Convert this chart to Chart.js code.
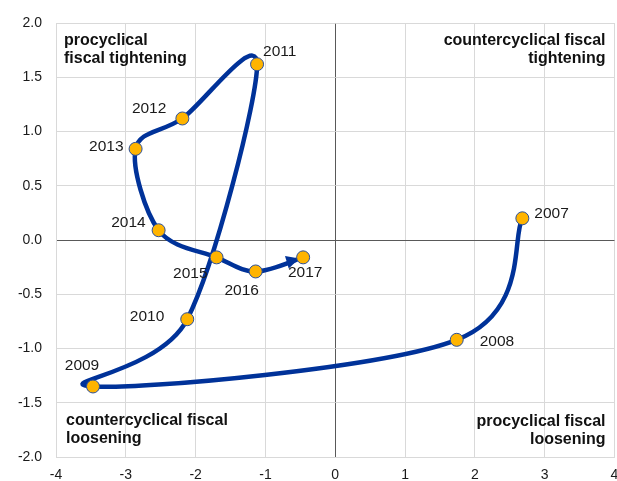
<!DOCTYPE html>
<html lang="en">
<head>
    <meta charset="UTF-8">
    <title>Fiscal stance vs output gap</title>
    <script src="https://cdn.jsdelivr.net/npm/chart.js"></script>
    <style>
        html, body { margin: 0; padding: 0; background: #fff; }
        #wrap { width: 617px; height: 481px; }
    </style>
</head>
<body>
    <div id="wrap"><canvas id="fiscalChart" width="617" height="481"></canvas></div>

    <script>
        // data
        const years = ['2007', '2008', '2009', '2010', '2011', '2012', '2013', '2014', '2015', '2016', '2017'];
        const xValues = [2.68, 1.74, -3.47, -2.12, -1.12, -2.19, -2.86, -2.53, -1.70, -1.14, -0.46];
        const yValues = [0.20, -0.92, -1.35, -0.73, 1.62, 1.12, 0.84, 0.09, -0.16, -0.29, -0.16];
        const xTicks = [-4, -3, -2, -1, 0, 1, 2, 3, 4];
        const yTicks = [-2.0, -1.5, -1.0, -0.5, 0.0, 0.5, 1.0, 1.5, 2.0];

        const quadrantNotes = {
            topLeft: ['procyclical', 'fiscal tightening'],
            topRight: ['countercyclical fiscal', 'tightening'],
            bottomLeft: ['countercyclical fiscal', 'loosening'],
            bottomRight: ['procyclical fiscal', 'loosening']
        };

        // where each year label sits relative to its marker (px)
        const labelPlace = {
            '2007': [12, -5, 'left'],
            '2008': [23, 2, 'left'],
            '2009': [-11, -21, 'center'],
            '2010': [-23, -2, 'right'],
            '2011': [6, -13, 'left'],
            '2012': [-16, -10, 'right'],
            '2013': [-12, -2, 'right'],
            '2014': [-13, -8, 'right'],
            '2015': [-9, 16, 'right'],
            '2016': [-14, 19, 'center'],
            '2017': [2, 15, 'center']
        };

        const blue = '#003299';
        const orange = '#ffb400';
        const font = "'Liberation Sans', Arial, sans-serif";

        const points = xValues.map((x, i) => ({ x: x, y: yValues[i] }));

        // Excel-like smoothing: catmull-rom control points (1/6 of neighbour span)
        const smoothPlugin = {
            id: 'excelSmooth',
            beforeDatasetDraw(chart, args) {
                if (args.index !== 0) return;
                const line = args.meta.dataset;
                line.updateControlPoints(chart.chartArea);
                const pts = args.meta.data;
                pts.forEach((p, i) => {
                    const prev = pts[i - 1] || p;
                    const next = pts[i + 1] || p;
                    const tx = (next.x - prev.x) / 6;
                    const ty = (next.y - prev.y) / 6;
                    p.cp1x = p.x - tx; p.cp1y = p.y - ty;
                    p.cp2x = p.x + tx; p.cp2y = p.y + ty;
                });
            }
        };

        // arrow head at end of the line
        const arrowPlugin = {
            id: 'arrowHead',
            afterDatasetDraw(chart, args) {
                if (args.index !== 0) return;
                const els = args.meta.data;
                const last = els[els.length - 1];
                let dx = last.x - last.cp1x;
                let dy = last.y - last.cp1y;
                const len = Math.hypot(dx, dy) || 1;
                dx /= len; dy /= len;
                const tipX = last.x - dx * 4, tipY = last.y - dy * 4;
                const size = 13, half = 6.5;
                const bx = tipX - dx * size, by = tipY - dy * size;
                const c = chart.ctx;
                c.save();
                c.fillStyle = blue;
                c.beginPath();
                c.moveTo(tipX, tipY);
                c.lineTo(bx - dy * half, by + dx * half);
                c.lineTo(bx + dy * half, by - dx * half);
                c.closePath();
                c.fill();
                c.restore();
            }
        };

        const labelsPlugin = {
            id: 'textLabels',
            afterDatasetsDraw(chart) {
                const c = chart.ctx;
                const meta = chart.getDatasetMeta(1);
                c.save();
                c.font = '15.5px ' + font;
                c.fillStyle = '#1a1a1a';
                c.textBaseline = 'middle';
                meta.data.forEach((pt, i) => {
                    const p = labelPlace[years[i]];
                    c.textAlign = p[2];
                    c.fillText(years[i], pt.x + p[0], pt.y + p[1]);
                });

                const a = chart.chartArea;
                c.font = 'bold 16px ' + font;
                c.fillStyle = '#111';
                const lh = 18;
                c.textAlign = 'left';
                quadrantNotes.topLeft.forEach((t, k) => c.fillText(t, a.left + 8, a.top + 18 + k * lh));
                quadrantNotes.bottomLeft.forEach((t, k) => c.fillText(t, a.left + 10, a.bottom - 36 + k * lh));
                c.textAlign = 'right';
                quadrantNotes.topRight.forEach((t, k) => c.fillText(t, a.right - 9, a.top + 18 + k * lh));
                quadrantNotes.bottomRight.forEach((t, k) => c.fillText(t, a.right - 9, a.bottom - 35 + k * lh));
                c.restore();
            }
        };

        new Chart(document.getElementById('fiscalChart').getContext('2d'), {
            type: 'scatter',
            data: {
                datasets: [{
                    data: points,
                    showLine: true,
                    borderColor: blue,
                    borderWidth: 4.5,
                    tension: 0.4,
                    capBezierPoints: false,
                    pointRadius: 0,
                    pointHoverRadius: 0,
                    order: 2
                }, {
                    data: points,
                    showLine: false,
                    pointRadius: 6.5,
                    pointBackgroundColor: orange,
                    pointBorderColor: '#2a4f9a',
                    pointBorderWidth: 1,
                    order: 1
                }]
            },
            options: {
                responsive: false,
                animation: false,
                events: [],
                layout: { autoPadding: false, padding: { top: 23, right: 2.5, bottom: 0, left: 0 } },
                plugins: {
                    legend: { display: false },
                    tooltip: { enabled: false }
                },
                scales: {
                    x: {
                        type: 'linear',
                        min: -4,
                        max: 4,
                        afterBuildTicks: s => { s.ticks = xTicks.map(v => ({ value: v })); },
                        afterFit: s => { s.height = 24; s.paddingLeft = 0; s.paddingRight = 0; },
                        grid: {
                            color: ctx => ctx.tick && ctx.tick.value === 0 ? '#595959' : '#d9d9d9',
                            drawTicks: false
                        },
                        border: { color: '#d9d9d9' },
                        ticks: {
                            padding: 10,
                            color: '#1a1a1a',
                            font: { family: font, size: 14 },
                            callback: v => String(v)
                        }
                    },
                    y: {
                        type: 'linear',
                        min: -2,
                        max: 2,
                        afterBuildTicks: s => { s.ticks = yTicks.map(v => ({ value: v })); },
                        afterFit: s => { s.width = 56; s.paddingTop = 0; s.paddingBottom = 0; },
                        grid: {
                            color: ctx => ctx.tick && ctx.tick.value === 0 ? '#595959' : '#d9d9d9',
                            drawTicks: false
                        },
                        border: { color: '#d9d9d9' },
                        ticks: {
                            padding: 14,
                            color: '#1a1a1a',
                            font: { family: font, size: 14 },
                            callback: v => v.toFixed(1)
                        }
                    }
                }
            },
            plugins: [smoothPlugin, arrowPlugin, labelsPlugin]
        });
    </script>
</body>
</html>
